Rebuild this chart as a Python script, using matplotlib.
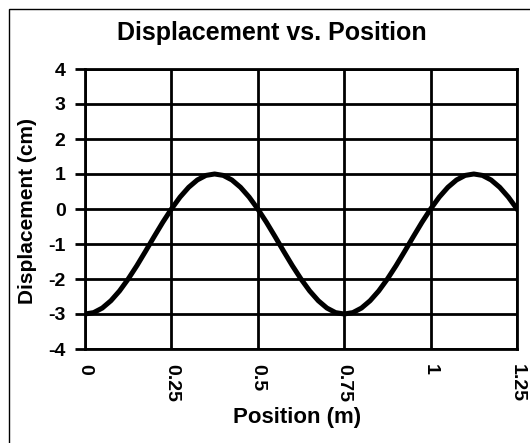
import numpy as np
import matplotlib
matplotlib.use("Agg")
import matplotlib.pyplot as plt
from matplotlib.patches import Rectangle

# Position (m) and displacement (cm)
position = [0, 0.025, 0.05, 0.075, 0.1, 0.125, 0.15, 0.175, 0.2, 0.225,
            0.25, 0.275, 0.3, 0.325, 0.35, 0.375, 0.4, 0.425, 0.45, 0.475,
            0.5, 0.525, 0.55, 0.575, 0.6, 0.625, 0.65, 0.675, 0.7, 0.725,
            0.75, 0.775, 0.8, 0.825, 0.85, 0.875, 0.9, 0.925, 0.95, 0.975,
            1.0, 1.025, 1.05, 1.075, 1.1, 1.125, 1.15, 1.175, 1.2, 1.225, 1.25]
displacement = [-3, -2.96, -2.83, -2.62, -2.34, -2.0, -1.62, -1.21, -0.79, -0.38,
                0, 0.34, 0.62, 0.83, 0.96, 1, 0.96, 0.83, 0.62, 0.34,
                0, -0.38, -0.79, -1.21, -1.62, -2.0, -2.34, -2.62, -2.83, -2.96,
                -3, -2.96, -2.83, -2.62, -2.34, -2.0, -1.62, -1.21, -0.79, -0.38,
                0, 0.34, 0.62, 0.83, 0.96, 1, 0.96, 0.83, 0.62, 0.34, 0]

x_ticks = [0, 0.25, 0.5, 0.75, 1, 1.25]
x_tick_labels = ["0", "0.25", "0.5", "0.75", "1", "1.25"]
y_ticks = [-4, -3, -2, -1, 0, 1, 2, 3, 4]

plt.rcParams['font.family'] = ['Liberation Sans', 'DejaVu Sans']
plt.rcParams['font.weight'] = 'bold'

W, H = 530, 443
fig = plt.figure(figsize=(W / 100, H / 100), dpi=100)

# outer chart frame
fig.patches.append(Rectangle((9 / W, -0.1), 1.2, 1 - 9 / H + 0.1,
                             transform=fig.transFigure, fill=False,
                             edgecolor="black", linewidth=1))

left, right, top, bottom = 85, 517, 69, 349
ax = fig.add_axes([left / W, 1 - bottom / H, (right - left) / W, (bottom - top) / H])

ax.plot(position, displacement, color="black", linewidth=3.6, solid_joinstyle="round")

ax.set_xlim(0, 1.25)
ax.set_ylim(-4, 4)
ax.set_xticks(x_ticks)
ax.set_xticklabels(x_tick_labels, rotation=270, fontsize=14, fontweight="bold")
ax.set_yticks(y_ticks)
ax.set_yticklabels([str(v) for v in y_ticks], fontsize=14, fontweight="bold")
ax.tick_params(axis="x", length=0, pad=11)
ax.tick_params(axis="y", length=7, width=2, pad=7)
ax.grid(True, color="black", linewidth=2)
for s in ax.spines.values():
    s.set_linewidth(2)

fig.text(272 / W, 1 - 33 / H, "Displacement vs. Position", ha="center", va="center",
         fontsize=18, fontweight="bold")
fig.text(297 / W, 1 - 418 / H, "Position (m)", ha="center", va="center",
         fontsize=16, fontweight="bold")
fig.text(28 / W, 1 - 211 / H, "Displacement (cm)", ha="center", va="center",
         rotation=90, fontsize=15, fontweight="bold")

fig.savefig("out.png", dpi=100)
